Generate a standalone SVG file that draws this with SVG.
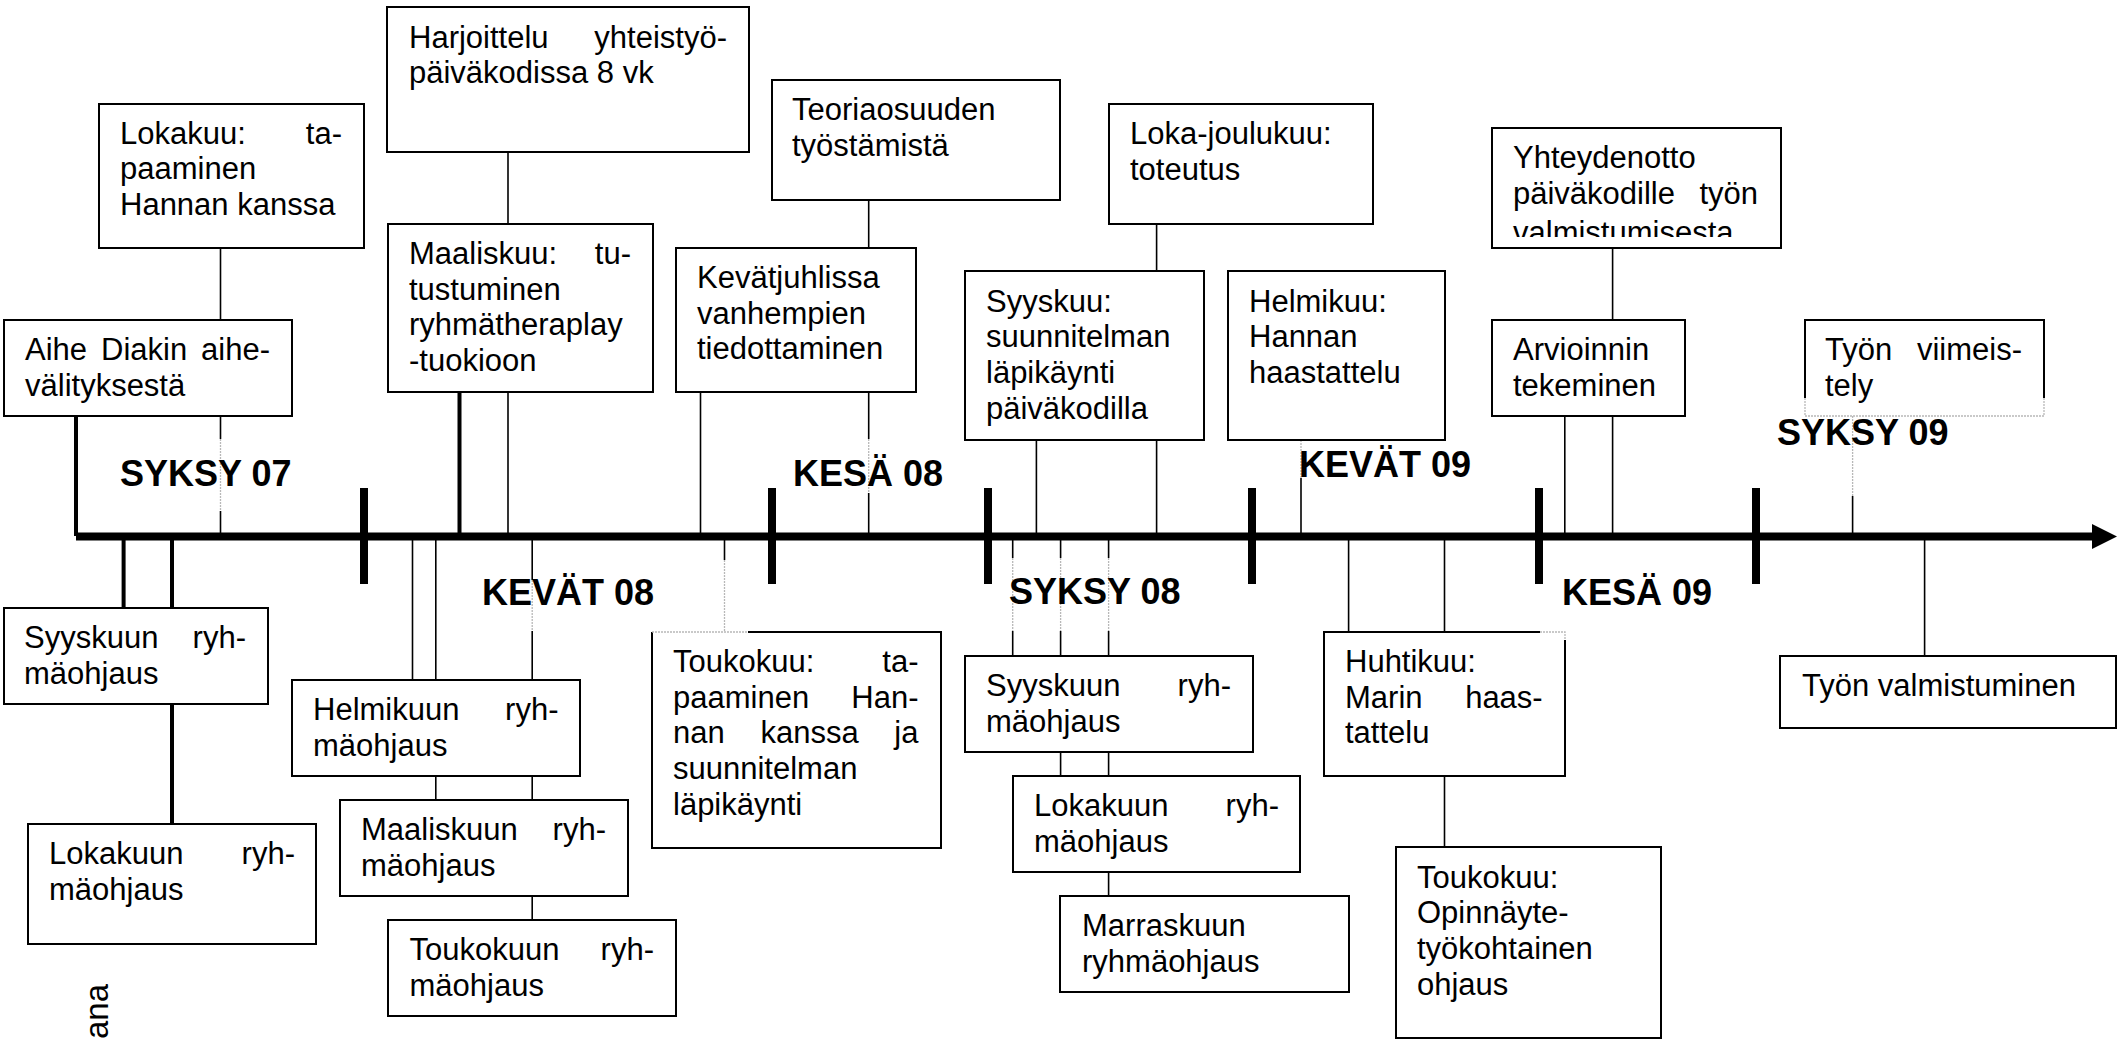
<svg xmlns="http://www.w3.org/2000/svg" width="2128" height="1040" viewBox="0 0 2128 1040">
<defs>
<style>
.box{fill:#fff;stroke:#000;stroke-width:2}
.fill{fill:#fff;stroke:none}
.edge{fill:none;stroke:#000;stroke-width:2}
.t{font-family:"Liberation Sans",Arial,sans-serif;font-size:31px;fill:#000}
.e{text-anchor:end}
.s{font-family:"Liberation Sans",Arial,sans-serif;font-size:36px;font-weight:bold;fill:#000}
.ln{stroke:#000;stroke-width:1.6;fill:none}
.thk{stroke:#000;stroke-width:4;fill:none}
.faint{stroke:#b8b8b8;stroke-width:1.3;stroke-dasharray:2 1;fill:none}
.axis{stroke:#000;stroke-width:8;fill:none}
.tick{stroke:#000;stroke-width:8}
</style>
<clipPath id="clipJ"><rect x="1492" y="128" width="289" height="109"/></clipPath>
</defs>
<rect width="2128" height="1040" fill="#fff"/>

<g id="connectors">
<line class="ln" x1="220.5" y1="248" x2="220.5" y2="320"/>
<line class="ln" x1="220.5" y1="416" x2="220.5" y2="439"/>
<line class="faint" x1="220.5" y1="439" x2="220.5" y2="511"/>
<line class="ln" x1="220.5" y1="511" x2="220.5" y2="536"/>
<line class="thk" x1="76" y1="416" x2="76" y2="536"/>
<line class="ln" x1="508" y1="152" x2="508" y2="224"/>
<line class="thk" x1="459.5" y1="392" x2="459.5" y2="536"/>
<line class="ln" x1="508" y1="392" x2="508" y2="536"/>
<line class="ln" x1="700.5" y1="392" x2="700.5" y2="536"/>
<line class="ln" x1="868.7" y1="200" x2="868.7" y2="248"/>
<line class="ln" x1="868.7" y1="392" x2="868.7" y2="439"/>
<line class="faint" x1="868.7" y1="439" x2="868.7" y2="493"/>
<line class="ln" x1="868.7" y1="493" x2="868.7" y2="536"/>
<line class="ln" x1="1156.6" y1="224" x2="1156.6" y2="271"/>
<line class="ln" x1="1036.4" y1="440" x2="1036.4" y2="536"/>
<line class="ln" x1="1156.6" y1="440" x2="1156.6" y2="536"/>
<line class="faint" x1="1301" y1="440" x2="1301" y2="478"/>
<line class="ln" x1="1301" y1="478" x2="1301" y2="536"/>
<line class="ln" x1="1612.6" y1="248" x2="1612.6" y2="320"/>
<line class="ln" x1="1564.8" y1="416" x2="1564.8" y2="536"/>
<line class="ln" x1="1612.6" y1="416" x2="1612.6" y2="536"/>
<line class="faint" x1="1852.6" y1="416" x2="1852.6" y2="496"/>
<line class="ln" x1="1852.6" y1="496" x2="1852.6" y2="536"/>
<line class="thk" x1="123.6" y1="536" x2="123.6" y2="608"/>
<line class="thk" x1="172" y1="536" x2="172" y2="608"/>
<line class="thk" x1="172" y1="704" x2="172" y2="824"/>
<line class="ln" x1="412.5" y1="536" x2="412.5" y2="680"/>
<line class="ln" x1="435.8" y1="536" x2="435.8" y2="680"/>
<line class="ln" x1="532.2" y1="536" x2="532.2" y2="580"/>
<line class="faint" x1="532.2" y1="580" x2="532.2" y2="631"/>
<line class="ln" x1="532.2" y1="631" x2="532.2" y2="680"/>
<line class="ln" x1="435.8" y1="776" x2="435.8" y2="800"/>
<line class="ln" x1="532.2" y1="776" x2="532.2" y2="800"/>
<line class="ln" x1="532.2" y1="896" x2="532.2" y2="920"/>
<line class="ln" x1="724.5" y1="536" x2="724.5" y2="560"/>
<line class="faint" x1="724.5" y1="560" x2="724.5" y2="632"/>
<line class="ln" x1="1012.7" y1="536" x2="1012.7" y2="558"/>
<line class="faint" x1="1012.7" y1="558" x2="1012.7" y2="631"/>
<line class="ln" x1="1012.7" y1="631" x2="1012.7" y2="656"/>
<line class="ln" x1="1060.6" y1="536" x2="1060.6" y2="558"/>
<line class="faint" x1="1060.6" y1="558" x2="1060.6" y2="631"/>
<line class="ln" x1="1060.6" y1="631" x2="1060.6" y2="656"/>
<line class="ln" x1="1108.6" y1="536" x2="1108.6" y2="558"/>
<line class="faint" x1="1108.6" y1="558" x2="1108.6" y2="631"/>
<line class="ln" x1="1108.6" y1="631" x2="1108.6" y2="656"/>
<line class="ln" x1="1060.6" y1="752" x2="1060.6" y2="776"/>
<line class="ln" x1="1108.6" y1="752" x2="1108.6" y2="776"/>
<line class="ln" x1="1108.6" y1="872" x2="1108.6" y2="896"/>
<line class="ln" x1="1348.6" y1="536" x2="1348.6" y2="632"/>
<line class="ln" x1="1444.5" y1="536" x2="1444.5" y2="632"/>
<line class="ln" x1="1444.5" y1="776" x2="1444.5" y2="847"/>
<line class="ln" x1="1924.6" y1="536" x2="1924.6" y2="656"/>
</g>

<g id="timeline">
<line class="axis" x1="76" y1="536.5" x2="2094" y2="536.5"/>
<polygon points="2092,524 2117,536.5 2092,549" fill="#000"/>
<line class="tick" x1="364" y1="488" x2="364" y2="584"/>
<line class="tick" x1="772" y1="488" x2="772" y2="584"/>
<line class="tick" x1="988" y1="488" x2="988" y2="584"/>
<line class="tick" x1="1252" y1="488" x2="1252" y2="584"/>
<line class="tick" x1="1539" y1="488" x2="1539" y2="584"/>
<line class="tick" x1="1756" y1="488" x2="1756" y2="584"/>
</g>

<g id="seasons">
<text id="s-syksy07" class="s" x="120" y="486">SYKSY 07</text>
<text id="s-kesa08" class="s" x="793" y="486">KESÄ 08</text>
<text id="s-kevat09" class="s" x="1299" y="477">KEVÄT 09</text>
<text id="s-syksy09" class="s" x="1777" y="445">SYKSY 09</text>
<text id="s-kevat08" class="s" x="482" y="605">KEVÄT 08</text>
<text id="s-syksy08" class="s" x="1009" y="604">SYKSY 08</text>
<text id="s-kesa09" class="s" x="1562" y="605">KESÄ 09</text>
</g>

<g id="n-aihe">
<rect class="box" x="4" y="320" width="288" height="96"/>
<text class="t" x="25" y="360">Aihe</text>
<text class="t" x="101" y="360">Diakin</text>
<text class="t e" x="270" y="360">aihe-</text>
<text class="t" x="25" y="395.7">välityksestä</text>
</g>

<g id="n-lokakuu-tapaaminen">
<rect class="box" x="99" y="104" width="265" height="144"/>
<text class="t" x="120" y="143.6">Lokakuu:</text>
<text class="t e" x="342" y="143.6">ta-</text>
<text class="t" x="120" y="179.3">paaminen</text>
<text class="t" x="120" y="215">Hannan kanssa</text>
</g>

<g id="n-harjoittelu">
<rect class="box" x="387" y="7" width="362" height="145"/>
<text class="t" x="409" y="47.5">Harjoittelu</text>
<text class="t e" x="727" y="47.5">yhteistyö-</text>
<text class="t" x="409" y="83.2">päiväkodissa 8 vk</text>
</g>

<g id="n-maaliskuu">
<rect class="box" x="388" y="224" width="265" height="168"/>
<text class="t" x="409" y="264">Maaliskuu:</text>
<text class="t e" x="631" y="264">tu-</text>
<text class="t" x="409" y="299.7">tustuminen</text>
<text class="t" x="409" y="335.4">ryhmätheraplay</text>
<text class="t" x="409" y="371.1">-tuokioon</text>
</g>

<g id="n-kevatjuhlissa">
<rect class="box" x="676" y="248" width="240" height="144"/>
<text class="t" x="697" y="288">Kevätjuhlissa</text>
<text class="t" x="697" y="323.7">vanhempien</text>
<text class="t" x="697" y="359.4">tiedottaminen</text>
</g>

<g id="n-teoria">
<rect class="box" x="772" y="80" width="288" height="120"/>
<text class="t" x="792" y="120">Teoriaosuuden</text>
<text class="t" x="792" y="155.7">työstämistä</text>
</g>

<g id="n-lokajoulukuu">
<rect class="box" x="1109" y="104" width="264" height="120"/>
<text class="t" x="1130" y="144">Loka-joulukuu:</text>
<text class="t" x="1130" y="179.7">toteutus</text>
</g>

<g id="n-syyskuu">
<rect class="box" x="965" y="271" width="239" height="169"/>
<text class="t" x="986" y="311.5">Syyskuu:</text>
<text class="t" x="986" y="347.2">suunnitelman</text>
<text class="t" x="986" y="382.9">läpikäynti</text>
<text class="t" x="986" y="418.6">päiväkodilla</text>
</g>

<g id="n-helmikuu">
<rect class="box" x="1228" y="271" width="217" height="169"/>
<text class="t" x="1249" y="311.5">Helmikuu:</text>
<text class="t" x="1249" y="347.2">Hannan</text>
<text class="t" x="1249" y="382.9">haastattelu</text>
</g>

<g id="n-yhteydenotto">
<rect class="box" x="1492" y="128" width="289" height="120"/>
<g clip-path="url(#clipJ)">
<text class="t" x="1513" y="168">Yhteydenotto</text>
<text class="t" x="1513" y="203.7">päiväkodille</text>
<text class="t e" x="1758" y="203.7">työn</text>
<text class="t" x="1513" y="243">valmistumisesta</text>
</g>
</g>

<g id="n-arvioinnin">
<rect class="box" x="1492" y="320" width="193" height="96"/>
<text class="t" x="1513" y="360">Arvioinnin</text>
<text class="t" x="1513" y="395.7">tekeminen</text>
</g>

<g id="n-viimeistely">
<rect class="fill" x="1805" y="320" width="239" height="96"/>
<path class="edge" d="M1805,398 V320 H2044 V398"/>
<path class="faint" d="M1805,398 V416 H2044 V398"/>
<text class="t" x="1825" y="360">Työn</text>
<text class="t e" x="2022" y="360">viimeis-</text>
<text class="t" x="1825" y="395.7">tely</text>
</g>

<g id="n-syyskuun-ryhmaohjaus-07">
<rect class="box" x="4" y="608" width="264" height="96"/>
<text class="t" x="24" y="648">Syyskuun</text>
<text class="t e" x="246" y="648">ryh-</text>
<text class="t" x="24" y="683.7">mäohjaus</text>
</g>

<g id="n-lokakuun-ryhmaohjaus-07">
<rect class="box" x="28" y="824" width="288" height="120"/>
<text class="t" x="49" y="864">Lokakuun</text>
<text class="t e" x="295" y="864">ryh-</text>
<text class="t" x="49" y="899.7">mäohjaus</text>
</g>

<g id="n-helmikuun-ryhmaohjaus">
<rect class="box" x="292" y="680" width="288" height="96"/>
<text class="t" x="313" y="720">Helmikuun</text>
<text class="t e" x="558.5" y="720">ryh-</text>
<text class="t" x="313" y="755.7">mäohjaus</text>
</g>

<g id="n-maaliskuun-ryhmaohjaus">
<rect class="box" x="340" y="800" width="288" height="96"/>
<text class="t" x="361" y="840">Maaliskuun</text>
<text class="t e" x="606" y="840">ryh-</text>
<text class="t" x="361" y="875.7">mäohjaus</text>
</g>

<g id="n-toukokuun-ryhmaohjaus">
<rect class="box" x="388" y="920" width="288" height="96"/>
<text class="t" x="409.5" y="960">Toukokuun</text>
<text class="t e" x="654" y="960">ryh-</text>
<text class="t" x="409.5" y="995.7">mäohjaus</text>
</g>

<g id="n-toukokuu-tapaaminen">
<rect class="fill" x="652" y="632" width="289" height="216"/>
<path class="edge" d="M748,632 H941 V848 H652 V632"/>
<line class="faint" x1="652" y1="632" x2="748" y2="632"/>
<text class="t" x="673" y="672">Toukokuu:</text>
<text class="t e" x="918.5" y="672">ta-</text>
<text class="t" x="673" y="707.7">paaminen</text>
<text class="t e" x="918.5" y="707.7">Han-</text>
<text class="t" x="673" y="743.4">nan</text>
<text class="t" x="760.5" y="743.4">kanssa</text>
<text class="t e" x="918.5" y="743.4">ja</text>
<text class="t" x="673" y="779.1">suunnitelman</text>
<text class="t" x="673" y="814.8">läpikäynti</text>
</g>

<g id="n-syyskuun-ryhmaohjaus-08">
<rect class="box" x="965" y="656" width="288" height="96"/>
<text class="t" x="986" y="696">Syyskuun</text>
<text class="t e" x="1231" y="696">ryh-</text>
<text class="t" x="986" y="731.7">mäohjaus</text>
</g>

<g id="n-lokakuun-ryhmaohjaus-08">
<rect class="box" x="1013" y="776" width="287" height="96"/>
<text class="t" x="1034" y="816">Lokakuun</text>
<text class="t e" x="1279" y="816">ryh-</text>
<text class="t" x="1034" y="851.7">mäohjaus</text>
</g>

<g id="n-marraskuun-ryhmaohjaus">
<rect class="box" x="1060" y="896" width="289" height="96"/>
<text class="t" x="1082" y="936">Marraskuun</text>
<text class="t" x="1082" y="971.7">ryhmäohjaus</text>
</g>

<g id="n-huhtikuu">
<rect class="fill" x="1324" y="632" width="241" height="144"/>
<path class="edge" d="M1540,632 H1324 V776 H1565 V640"/>
<path class="faint" d="M1540,632 H1565 V640"/>
<text class="t" x="1345" y="672">Huhtikuu:</text>
<text class="t" x="1345" y="707.7">Marin</text>
<text class="t e" x="1542.7" y="707.7">haas-</text>
<text class="t" x="1345" y="743.4">tattelu</text>
</g>

<g id="n-toukokuu-ohjaus">
<rect class="box" x="1396" y="847" width="265" height="191"/>
<text class="t" x="1417" y="887.5">Toukokuu:</text>
<text class="t" x="1417" y="923.2">Opinnäyte-</text>
<text class="t" x="1417" y="958.9">työkohtainen</text>
<text class="t" x="1417" y="994.6">ohjaus</text>
</g>

<g id="n-valmistuminen">
<rect class="box" x="1780" y="656" width="336" height="72"/>
<text class="t" x="1802" y="696">Työn valmistuminen</text>
</g>

<g id="edge-label">
<text class="t" style="font-size:33px" transform="translate(108,1039) rotate(-90)">ana</text>
</g>
</svg>
